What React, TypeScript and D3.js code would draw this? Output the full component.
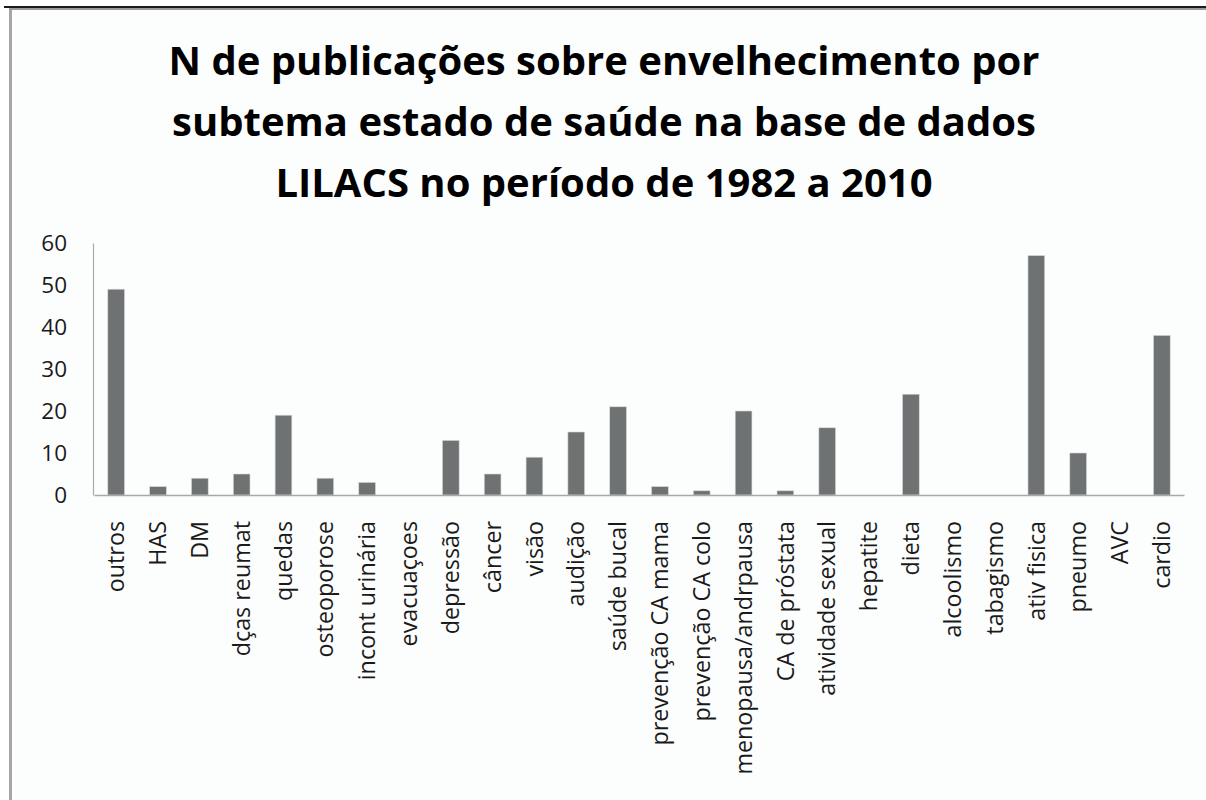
import { useEffect, useRef } from "react"
import * as d3 from "d3"

const categories = [
    "outros", "HAS", "DM", "dças reumat", "quedas", "osteoporose", "incont urinária",
    "evacuaçoes", "depressão", "câncer", "visão", "audição", "saúde bucal",
    "prevenção CA mama", "prevenção CA colo", "menopausa/andrpausa", "CA de próstata",
    "atividade sexual", "hepatite", "dieta", "alcoolismo", "tabagismo", "ativ fisica",
    "pneumo", "AVC", "cardio",
]
const counts = [49, 2, 4, 5, 19, 4, 3, 0, 13, 5, 9, 15, 21, 2, 1, 20, 1, 16, 0, 24, 0, 0, 57, 10, 0, 38]
const yTicks = [0, 10, 20, 30, 40, 50, 60]
const titleLines = [
    "N de publicações sobre envelhecimento por",
    "subtema estado de saúde na base de dados",
    "LILACS no período de 1982 a 2010",
]

export default function App() {
    const ref = useRef<SVGSVGElement | null>(null)

    useEffect(() => {
        const width = 1206
        const height = 800
        const marginLeft = 93
        const right = 1184
        const top = 243
        const bottom = 495

        const svg = d3.select(ref.current)
        svg.selectAll('*').remove()

        // background + frame
        svg.append('rect')
            .attr('x', 0).attr('y', 0)
            .attr('width', width).attr('height', height)
            .attr('fill', '#ffffff')
        svg.append('rect')
            .attr('x', 11).attr('y', 8)
            .attr('width', width - 11).attr('height', height - 8)
            .attr('fill', '#fcfdfd')
        svg.append('line')
            .attr('x1', 10.5).attr('x2', 10.5)
            .attr('y1', 7).attr('y2', height)
            .attr('stroke', '#a6a6a6').attr('stroke-width', 3)
        svg.append('line')
            .attr('x1', 4).attr('x2', width)
            .attr('y1', 7).attr('y2', 7)
            .attr('stroke', '#1a1a1a').attr('stroke-width', 2)
        svg.append('line')
            .attr('x1', 9).attr('x2', width)
            .attr('y1', 9).attr('y2', 9)
            .attr('stroke', '#9a9a9a').attr('stroke-width', 2)

        const x = d3.scaleBand<string>()
            .domain(categories)
            .range([marginLeft + 1, right])
            .paddingInner(0.6)
            .paddingOuter(0.33)

        const y = d3.scaleLinear()
            .domain([0, 60])
            .range([bottom, top])

        // title
        svg.append('g')
                .attr('font-family', '"Open Sans", sans-serif')
                .attr('font-weight', 'bold')
                .attr('font-size', 40)
                .attr('text-anchor', 'middle')
                .attr('fill', '#000')
            .selectAll('text')
            .data(titleLines)
            .join('text')
                .attr('x', 604)
                .attr('y', (_, i) => 75 + i * 61)
                .text(d => d)

        // bars
        svg.append('g')
            .selectAll('rect')
            .data(counts)
            .join('rect')
                .attr('fill', '#6f7273')
                .attr('stroke', '#d8d9da')
                .attr('stroke-width', 0.6)
                .attr('x', (_, i) => x(categories[i]) as number)
                .attr('y', d => y(d))
                .attr('width', x.bandwidth())
                .attr('height', d => y(0) - y(d))

        // y axis
        svg.append('g')
                .attr('transform', `translate(${marginLeft},0)`)
            .call(d3.axisLeft(y).tickValues(yTicks).tickSize(0).tickPadding(26))
            .call(g => g.select('.domain').attr('stroke', '#a9a9a9').attr('stroke-width', 1.2))
            .call(g => g.selectAll('text')
                .attr('font-family', '"Open Sans", sans-serif')
                .attr('font-size', 22.5)
                .attr('fill', '#1a1a1a'))

        // x axis
        svg.append('g')
                .attr('transform', `translate(0,${bottom})`)
            .call(d3.axisBottom(x).tickSize(0).tickSizeOuter(0).tickPadding(0))
            .call(g => g.select('.domain').attr('stroke', '#a9a9a9').attr('stroke-width', 1.5))
            .call(g => g.selectAll('.tick text')
                .attr('font-family', '"Open Sans", sans-serif')
                .attr('font-size', 23.3)
                .attr('fill', '#1a1a1a')
                .attr('text-anchor', 'end')
                .attr('transform', 'rotate(-90)')
                .attr('x', -26)
                .attr('y', 0)
                .attr('dy', '0.35em'))
    }, [])

    return (
        <svg ref={ref} width={1206} height={800}
            style={{ position: 'absolute', left: 0, top: 0 }} />
    )
}
